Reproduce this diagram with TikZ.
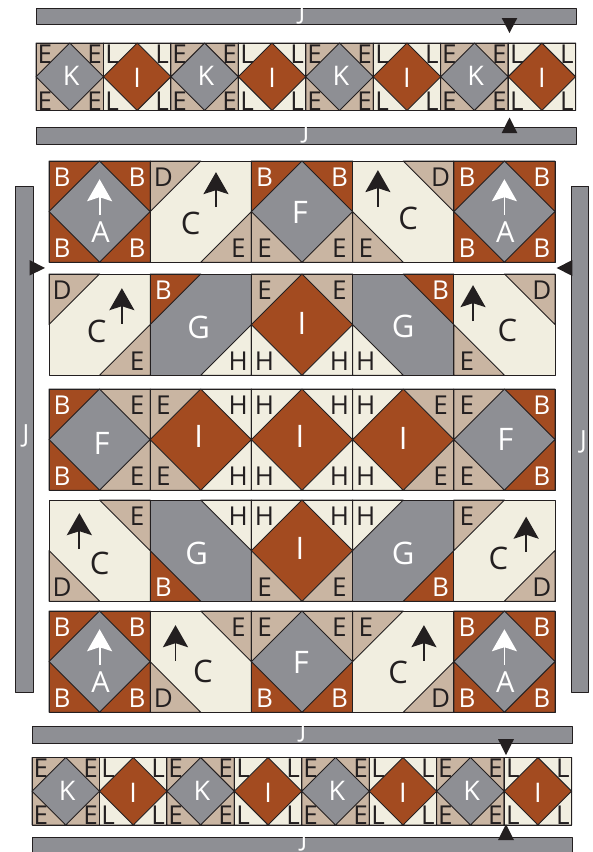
\documentclass[tikz,border=0pt]{standalone}
\usepackage{fontspec}
\setmainfont{Open Sans}
\usetikzlibrary{arrows.meta}
\definecolor{quiltslate}{HTML}{8E8F94}
\definecolor{quiltrust}{HTML}{A34B20}
\definecolor{quilttan}{HTML}{C9B5A2}
\definecolor{quiltcream}{HTML}{F1EEE0}
\definecolor{quiltink}{HTML}{231F20}
\tikzset{seam/.style={draw=quiltink,line width=0.9pt,line join=round},slatepatch/.style={fill=quiltslate,text=white},rustpatch/.style={fill=quiltrust,text=white},tanpatch/.style={fill=quilttan,text=quiltink},creampatch/.style={fill=quiltcream,text=quiltink},cornerlabel/.style={font=\fontsize{26}{26}\selectfont,inner sep=0pt},midlabel/.style={font=\fontsize{31}{31}\selectfont,inner sep=0pt},smidlabel/.style={font=\fontsize{27}{27}\selectfont,inner sep=0pt,text=white},sashlabel/.style={font=\fontsize{25}{25}\selectfont,inner sep=0pt,text=white},grainarrow/.style={-{Stealth[length=22pt,width=25pt,inset=4pt]},line width=1.8pt},marker/.style={fill=quiltink},sashbar/.style={seam,fill=quiltslate}}
\newcommand{\patch}[5]{\begin{scope}[name prefix=#1-,shift={(#2,#3)},x=#4pt,y=-#4pt]#5\draw[seam] (0,0) rectangle (1,1);\end{scope}}
\newcommand{\patchNW}[2]{\draw[seam,#1] (0,0)--(.5,0)--(0,.5)--cycle;\node[cornerlabel,#1,fill=none] (nw) at (.13,.16) {#2};}
\newcommand{\patchNE}[2]{\draw[seam,#1] (1,0)--(.5,0)--(1,.5)--cycle;\node[cornerlabel,#1,fill=none] (ne) at (.87,.16) {#2};}
\newcommand{\patchSW}[2]{\draw[seam,#1] (0,1)--(.5,1)--(0,.5)--cycle;\node[cornerlabel,#1,fill=none] (sw) at (.13,.86) {#2};}
\newcommand{\patchSE}[2]{\draw[seam,#1] (1,1)--(.5,1)--(1,.5)--cycle;\node[cornerlabel,#1,fill=none] (se) at (.87,.86) {#2};}
% A block: name, x, y
\newcommand{\blockA}[3]{\patch{#1}{#2}{#3}{101.2}{\fill[slatepatch] (0,0) rectangle (1,1);
\patchNW{rustpatch}{B}\patchNE{rustpatch}{B}\patchSW{rustpatch}{B}\patchSE{rustpatch}{B}
\draw[grainarrow,white] (.5,.535)--(.5,.18);
\node[cornerlabel,font=\fontsize{29}{29}\selectfont,text=white] (mid) at (.51,.70) {A};}}
% C block: name, x, y, corners, arrow x, tip, tail, label x, label y
\newcommand{\blockC}[9]{\patch{#1}{#2}{#3}{101.2}{\fill[creampatch] (0,0) rectangle (1,1);#4
\draw[grainarrow,quiltink] (#5,#7)--(#5,#6);
\node[midlabel,text=quiltink] (mid) at (#8,#9) {C};}}
% other blocks: name, x, y, base, corners, letter, letter x, letter y
\newcommand{\blockD}[8]{\patch{#1}{#2}{#3}{101.2}{\fill[#4] (0,0) rectangle (1,1);#5
\node[midlabel,text=white] (mid) at (#7,#8) {#6};}}
\newcommand{\smallrow}[3]{\foreach \n [evaluate=\n as \kx using #2+\n*134.9,evaluate=\n as \ix using #2+67.45+\n*134.9] in {0,...,3} {
\patch{#1k\n}{\kx}{#3}{67.45}{\fill[slatepatch] (0,0) rectangle (1,1);
\patchNW{tanpatch}{E}\patchNE{tanpatch}{E}\patchSW{tanpatch}{E}\patchSE{tanpatch}{E}
\node[smidlabel] (mid) at (.52,.49) {K};}
\patch{#1i\n}{\ix}{#3}{67.45}{\fill[rustpatch] (0,0) rectangle (1,1);
\patchNW{creampatch}{L}\patchNE{creampatch}{L}\patchSW{creampatch}{L}\patchSE{creampatch}{L}
\node[smidlabel] (mid) at (.5,.52) {I};}}}
\begin{document}
\begin{tikzpicture}[x=1pt,y=-1pt]
\useasboundingbox (0,0) rectangle (593,852);
\clip (0,0) rectangle (593,852);
% sashing
\draw[sashbar] (36,8) rectangle (576,24);
\draw[sashbar] (36,127) rectangle (576,144);
\draw[sashbar] (32,726.5) rectangle (572,743.5);
\draw[sashbar] (32,837) rectangle (572,860);
\draw[sashbar] (15.5,186) rectangle (33,692);
\draw[sashbar] (571,186) rectangle (588.5,692);
\node[sashlabel] (jtop) at (302,12.5) {J};
\node[sashlabel] (jmid) at (306,132) {J};
\node[sashlabel] (jlow) at (303,731) {J};
\node[sashlabel] (jend) at (304,840) {J};
\node[sashlabel] (jleft) at (26,436) {J};
\node[sashlabel] (jright) at (583.5,442) {J};
% border rows
\smallrow{top}{36}{43}
\smallrow{low}{32}{757.5}
% row 1
\blockA{aa}{49}{161}
\blockC{ab}{150.2}{161}{\patchNW{tanpatch}{D}\patchSE{tanpatch}{E}}{.65}{.11}{.455}{.40}{.62}
\blockD{ac}{251.4}{161}{slatepatch}{\patchNW{rustpatch}{B}\patchNE{rustpatch}{B}\patchSW{tanpatch}{E}\patchSE{tanpatch}{E}}{F}{.48}{.51}
\blockC{ad}{352.6}{161}{\patchNE{tanpatch}{D}\patchSW{tanpatch}{E}}{.25}{.09}{.45}{.55}{.57}
\blockA{ae}{453.8}{161}
% row 2
\blockC{ba}{49}{274}{\patchNW{tanpatch}{D}\patchSE{tanpatch}{E}}{.72}{.14}{.49}{.47}{.57}
\blockD{bb}{150.2}{274}{slatepatch}{\patchNW{rustpatch}{B}\patchSE{creampatch}{H}}{G}{.48}{.53}
\blockD{bc}{251.4}{274}{rustpatch}{\patchNW{tanpatch}{E}\patchNE{tanpatch}{E}\patchSW{creampatch}{H}\patchSE{creampatch}{H}}{I}{.5}{.49}
\blockD{bd}{352.6}{274}{slatepatch}{\patchNE{rustpatch}{B}\patchSW{creampatch}{H}}{G}{.5}{.515}
\blockC{be}{453.8}{274}{\patchNE{tanpatch}{D}\patchSW{tanpatch}{E}}{.19}{.11}{.465}{.53}{.555}
% row 3
\blockD{ca}{49}{389}{slatepatch}{\patchNW{rustpatch}{B}\patchNE{tanpatch}{E}\patchSW{rustpatch}{B}\patchSE{tanpatch}{E}}{F}{.52}{.54}
\blockD{cb}{150.2}{389}{rustpatch}{\patchNW{tanpatch}{E}\patchNE{creampatch}{H}\patchSW{tanpatch}{E}\patchSE{creampatch}{H}}{I}{.48}{.47}
\blockD{cc}{251.4}{389}{rustpatch}{\patchNW{creampatch}{H}\patchNE{creampatch}{H}\patchSW{creampatch}{H}\patchSE{creampatch}{H}}{I}{.48}{.47}
\blockD{cd}{352.6}{389}{rustpatch}{\patchNW{creampatch}{H}\patchNE{tanpatch}{E}\patchSW{creampatch}{H}\patchSE{tanpatch}{E}}{I}{.5}{.49}
\blockD{ce}{453.8}{389}{slatepatch}{\patchNW{tanpatch}{E}\patchNE{rustpatch}{B}\patchSW{tanpatch}{E}\patchSE{rustpatch}{B}}{F}{.51}{.5}
% row 4
\blockC{da}{49}{500}{\patchNE{tanpatch}{E}\patchSW{tanpatch}{D}}{.3}{.13}{.485}{.5}{.63}
\blockD{db}{150.2}{500}{slatepatch}{\patchNE{creampatch}{H}\patchSW{rustpatch}{B}}{G}{.46}{.525}
\blockD{dc}{251.4}{500}{rustpatch}{\patchNW{creampatch}{H}\patchNE{creampatch}{H}\patchSW{tanpatch}{E}\patchSE{tanpatch}{E}}{I}{.48}{.48}
\blockD{dd}{352.6}{500}{slatepatch}{\patchNW{creampatch}{H}\patchSE{rustpatch}{B}}{G}{.5}{.525}
\blockC{de}{453.8}{500}{\patchNW{tanpatch}{E}\patchSE{tanpatch}{D}}{.715}{.165}{.51}{.44}{.575}
% row 5
\blockA{ea}{49}{611}
\blockC{eb}{150.2}{611}{\patchNE{tanpatch}{E}\patchSW{tanpatch}{D}}{.25}{.14}{.49}{.52}{.6}
\blockD{ec}{251.4}{611}{slatepatch}{\patchNW{tanpatch}{E}\patchNE{tanpatch}{E}\patchSW{rustpatch}{B}\patchSE{rustpatch}{B}}{F}{.49}{.51}
\blockC{ed}{352.6}{611}{\patchNW{tanpatch}{E}\patchSE{tanpatch}{D}}{.705}{.14}{.49}{.45}{.61}
\blockA{ee}{453.8}{611}
% placement markers
\fill[marker] (501.7,18)--(517.3,18)--(509.5,33)--cycle;
\fill[marker] (501.7,133)--(517.3,133)--(509.5,117.5)--cycle;
\fill[marker] (29.5,260)--(29.5,275.5)--(45,268)--cycle;
\fill[marker] (572.3,260)--(572.3,276)--(556.7,268)--cycle;
\fill[marker] (498,739)--(514,739)--(506,755)--cycle;
\fill[marker] (498,840)--(514,840)--(506,824)--cycle;
\end{tikzpicture}
\end{document}
